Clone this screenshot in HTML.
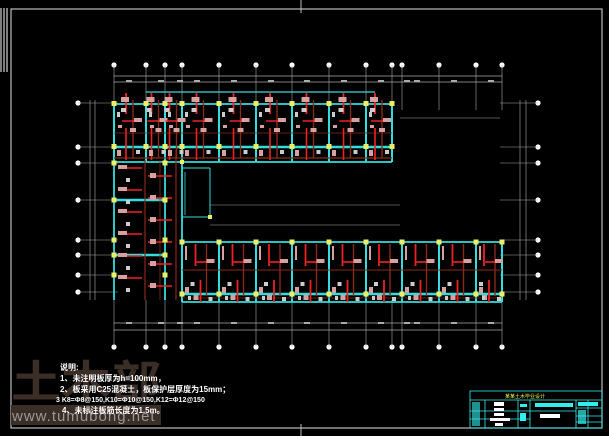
<!DOCTYPE html>
<html><head><meta charset="utf-8"><style>
html,body{margin:0;padding:0;background:#000;}
svg{display:block}
text{font-family:"Liberation Sans","Noto Sans CJK SC",sans-serif;}
</style></head><body>
<svg id="s" width="609" height="436" viewBox="0 0 609 436" xmlns="http://www.w3.org/2000/svg">
<rect width="609" height="436" fill="#000"/>
<rect x="11" y="9" width="591" height="419" fill="none" stroke="#bbb" stroke-width="1.2"/>
<line x1="301" y1="0" x2="301" y2="13" stroke="#bbb"/>
<line x1="301" y1="424" x2="301" y2="436" stroke="#bbb"/>
<g stroke="#fff" stroke-width="1"><line x1="1" y1="8" x2="1" y2="72"/><line x1="4" y1="8" x2="4" y2="72"/><line x1="7" y1="8" x2="7" y2="72"/></g>
<text x="11" y="397" font-size="44" font-weight="bold" fill="#3a2e27" textLength="150" lengthAdjust="spacingAndGlyphs" font-family="Noto Sans CJK SC, sans-serif">土木部</text>
<rect x="11" y="405" width="150" height="20" fill="#3a2e27"/>
<text x="12" y="421" font-size="15" fill="#999" letter-spacing="1">www.tumubong.net</text>
<g id="g"></g>
<g fill="#fff" font-size="8" font-weight="bold">
<text x="60" y="370">说明:</text>
<text x="60" y="381">1、未注明板厚为h=100mm，</text>
<text x="60" y="392">2、板采用C25混凝土，板保护层厚度为15mm；</text>
<text x="56" y="402" font-size="7">3 K8=Φ8@150,K10=Φ10@150,K12=Φ12@150</text>
<text x="62" y="413">4、未标注板筋长度为1.5m。</text>
</g>
<g stroke="#3ee" fill="none" stroke-width="0.8">
<rect x="470" y="391" width="132" height="37"/>
<line x1="470" y1="400" x2="602" y2="400"/>
<line x1="485" y1="400" x2="485" y2="428"/><line x1="518" y1="400" x2="518" y2="428"/>
<line x1="530" y1="400" x2="530" y2="428"/><line x1="576" y1="400" x2="576" y2="428"/>
<line x1="588" y1="400" x2="588" y2="428"/>
<line x1="470" y1="411" x2="576" y2="411"/><line x1="470" y1="419" x2="530" y2="419"/>
<line x1="576" y1="408" x2="602" y2="408"/><line x1="576" y1="416" x2="602" y2="416"/><line x1="576" y1="422" x2="602" y2="422"/>
</g>
<g fill="#ee3" font-size="5"><text x="505" y="398">某某土木毕业设计</text></g>
<g fill="#fff"><rect x="494" y="402" width="10" height="4"/><rect x="494" y="408" width="10" height="3"/><rect x="494" y="413" width="10" height="3"/><rect x="490" y="418" width="20" height="3"/><rect x="495" y="423" width="8" height="3"/><rect x="540" y="414" width="20" height="4"/></g>
<g fill="#3ee"><rect x="472" y="402" width="8" height="24" opacity="0.6"/><rect x="520" y="404" width="7" height="3"/><rect x="535" y="403" width="38" height="4"/><rect x="520" y="413" width="6" height="8"/><rect x="578" y="402" width="20" height="4"/><rect x="578" y="410" width="8" height="14" opacity="0.7"/></g>
</svg>
<script>
const g=document.getElementById('g');const NS='http://www.w3.org/2000/svg';
function L(x1,y1,x2,y2,c,w){const e=document.createElementNS(NS,'line');e.setAttribute('x1',x1);e.setAttribute('y1',y1);e.setAttribute('x2',x2);e.setAttribute('y2',y2);e.setAttribute('stroke',c);e.setAttribute('stroke-width',w||1);g.appendChild(e);}
function R(x,y,w,h,c){const e=document.createElementNS(NS,'rect');e.setAttribute('x',x);e.setAttribute('y',y);e.setAttribute('width',w);e.setAttribute('height',h);e.setAttribute('fill',c);g.appendChild(e);}
function C(x,y){const e=document.createElementNS(NS,'circle');e.setAttribute('cx',x);e.setAttribute('cy',y);e.setAttribute('r',2.6);e.setAttribute('fill','#fff');g.appendChild(e);}
const gray='#aaa';
const tx=[114,146,165,182,219,256,292,329,366,392,402,439,476,502];
tx.forEach(x=>{C(x,65);L(x,65,x,110,gray,0.6);C(x,347);L(x,300,x,347,gray,0.6);});
L(114,76,502,76,gray,0.7);L(114,82,502,82,gray,0.7);L(114,323,502,323,gray,0.7);L(114,330,502,330,gray,0.7);
tx.forEach((x,i)=>{if(i<13){R(x+12,80,6,2,gray);R(x+12,322,6,2,gray);}});
const ry=[103,147,163,200,240,255,275,292];
ry.forEach(y=>{C(78,y);C(538,y);L(78,y,118,y,gray,0.6);L(500,y,538,y,gray,0.6);});
L(90,100,90,300,gray,0.6);L(95,100,95,300,gray,0.6);L(520,100,520,300,gray,0.6);L(526,100,526,300,gray,0.6);
L(400,118,500,118,gray,0.6);L(210,205,400,205,gray,0.6);L(210,225,400,225,gray,0.6);
const cy='#3dd';
const ux=[114,146,165,182,219,256,292,329,366,392];
L(114,104,392,104,cy,1.8);L(114,162,392,162,cy,1.8);L(114,147,392,147,cy,2.4);L(146,92,375,92,cy,1.2);
L(114,104,114,300,cy,1.8);
ux.forEach(x=>{L(x,104,x,162,cy,2);});
L(165,162,165,300,cy,1.8);L(114,200,165,200,cy,2.4);L(114,255,165,255,cy,2.4);
L(182,168,210,168,cy,1);L(210,168,210,217,cy,1);L(182,217,210,217,cy,1);L(185,172,185,215,cy,0.8);
L(182,162,182,300,cy,1.8);
const lx=[182,219,256,292,329,366,402,439,476,502];
L(182,242,502,242,cy,1.8);L(182,294,502,294,cy,2.4);L(182,302,502,302,cy,1.8);
lx.forEach(x=>L(x,242,x,302,cy,2));
const red='#e22',br='#8a2a1a',pink='#d9a0a0',lg='#ccc';
L(114,158,392,158,br,1.2);L(114,133,392,133,br,0.8);L(182,270,502,270,br,1);L(182,298,502,298,br,0.8);
L(145,160,145,300,br,1.2);L(160,160,160,300,br,0.8);L(176,150,176,300,br,1.2);
for(let i=0;i<9;i++){const a=ux[i],b=ux[i+1],m=(a+b)/2;
 L(m-4,93,m-4,114,red,1.8);L(m+3,100,m+3,158,br,1.4);L(m-8,121,m+10,121,red,1.6);R(m-9,97,8,5,pink);R(m+4,118,8,4,pink);
 L(m-4,128,m-4,160,red,1.6);R(a+3,150,4,6,pink);R(m,128,6,4,pink);R(m-9,108,5,4,lg);R(a+3,112,3,5,lg);R(m+6,150,4,4,lg);R(a+4,125,4,3,pink);}
for(let i=0;i<9;i++){const a=lx[i],b=lx[i+1],m=(a+b)/2;
 L(m-5,244,m-5,266,red,1.8);L(m+6,244,m+6,296,br,1.4);L(m-4,262,m+12,262,red,1.6);R(m+6,259,8,4,pink);
 L(m,280,m,302,red,1.8);L(a+4,246,a+4,260,pink,2);R(m-7,295,5,5,pink);R(a+3,287,4,6,pink);R(m+8,297,4,4,lg);R(a+6,296,3,4,lg);R(m-10,282,4,4,lg);}
for(let y=168;y<300;y+=22){L(118,y,142,y,red,1.6);R(118,y-3,9,4,pink);L(148,y+8,172,y+8,red,1.4);R(150,y+5,6,5,pink);R(126,y+10,4,4,lg);}
const yel='#ee6';
ux.forEach(x=>{R(x-2.5,101,5,5,yel);R(x-2.5,144,5,5,yel);});
[114,165].forEach(x=>[163,200,240,255,275].forEach(y=>R(x-2.5,y-2.5,5,5,yel)));
lx.forEach(x=>{R(x-2.5,239.5,5,5,yel);R(x-2.5,291.5,5,5,yel);});
R(208,215,4,4,yel);R(180,160,4,4,yel);
</script>
</body></html>
